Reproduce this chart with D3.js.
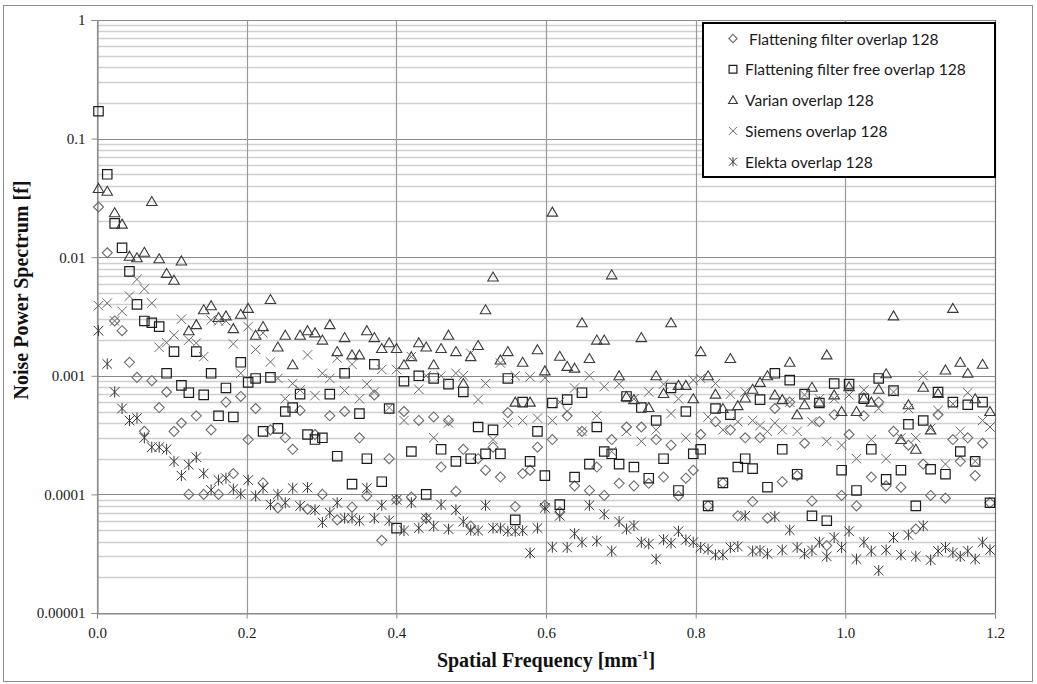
<!DOCTYPE html>
<html>
<head>
<meta charset="utf-8">
<script src="https://cdn.jsdelivr.net/npm/d3@7"></script>
<style>
  body { margin: 0; background: #fff; }
</style>
</head>
<body>
<svg id="chart" width="1037" height="684"></svg>
<script>
// spatial frequency bins (mm^-1)
const freq = [0.002,
  0.0137, 0.0236, 0.0335, 0.0434, 0.0534, 0.0633, 0.0732, 0.0831, 0.0930, 0.1029,
  0.1128, 0.1227, 0.1327, 0.1426, 0.1525, 0.1624, 0.1723, 0.1822, 0.1921, 0.2020,
  0.2120, 0.2219, 0.2318, 0.2417, 0.2516, 0.2615, 0.2714, 0.2813, 0.2913, 0.3012,
  0.3111, 0.3210, 0.3309, 0.3408, 0.3507, 0.3606, 0.3706, 0.3805, 0.3904, 0.4003,
  0.4102, 0.4201, 0.4300, 0.4399, 0.4499, 0.4598, 0.4697, 0.4796, 0.4895, 0.4994,
  0.5093, 0.5192, 0.5292, 0.5391, 0.5490, 0.5589, 0.5688, 0.5787, 0.5886, 0.5985,
  0.6085, 0.6184, 0.6283, 0.6382, 0.6481, 0.6580, 0.6679, 0.6778, 0.6878, 0.6977,
  0.7076, 0.7175, 0.7274, 0.7373, 0.7472, 0.7571, 0.7671, 0.7770, 0.7869, 0.7968,
  0.8067, 0.8166, 0.8265, 0.8364, 0.8464, 0.8563, 0.8662, 0.8761, 0.8860, 0.8959,
  0.9058, 0.9157, 0.9257, 0.9356, 0.9455, 0.9554, 0.9653, 0.9752, 0.9851, 0.9950,
  1.0050, 1.0149, 1.0248, 1.0347, 1.0446, 1.0545, 1.0644, 1.0743, 1.0843, 1.0942,
  1.1041, 1.1140, 1.1239, 1.1338, 1.1437, 1.1536, 1.1636, 1.1735, 1.1834, 1.1933];

const flatteningFilter = [0.0265,
  0.0109, 0.0029, 0.0024, 0.0013, 0.00097, 0.00034, 0.00091, 0.00054, 0.00073, 0.00034,
  0.0004, 0.0001, 0.00046, 0.0001, 0.00035, 0.0001, 0.0006, 0.00015, 0.00067, 0.00029,
  0.00053, 0.000125, 0.00035, 0.000077, 0.0003, 0.00024, 0.00051, 0.000075, 0.00032, 0.0001,
  0.00046, 0.000061, 0.0005, 0.000078, 0.0003, 0.000097, 0.00069, 0.000041, 0.0002, 0.00009,
  0.0005, 0.000095, 0.00042, 0.000063, 0.00045, 0.00017, 0.00042, 0.000106, 0.00024, 0.000054,
  0.0002, 0.00016, 0.00025, 0.00014, 0.00049, 0.000079, 0.00015, 0.00016, 0.00025, 0.000081,
  0.00029, 0.000071, 0.00046, 0.000118, 0.00034, 0.000108, 0.00017, 0.000098, 0.00029, 0.000124,
  0.00037, 0.000118, 0.00037, 0.000124, 0.00029, 0.00014, 0.00026, 0.000097, 0.000137, 0.00016,
  0.00032, 0.00008, 0.00041, 0.000125, 0.00035, 0.000066, 0.0003, 0.000087, 0.0003, 0.000063,
  0.00053, 0.000128, 0.0006, 0.000144, 0.00027, 0.000088, 0.00041, 0.000037, 0.00047, 0.000098,
  0.00032, 0.00008, 0.00046, 0.00014, 0.0006, 0.000118, 0.00034, 0.000115, 0.00026, 0.000051,
  0.00018, 0.000098, 0.00047, 0.000093, 0.00029, 0.00019, 0.0003, 0.000144, 0.00027, 0.000085];

const flatteningFilterFree = [0.17,
  0.05, 0.0193, 0.012, 0.0076, 0.004, 0.0029, 0.0028, 0.0026, 0.00105, 0.0016,
  0.00083, 0.00072, 0.0016, 0.00069, 0.00105, 0.00046, 0.00079, 0.00045, 0.0013, 0.00088,
  0.00095, 0.00034, 0.00097, 0.00036, 0.0005, 0.00054, 0.0007, 0.00032, 0.00029, 0.0003,
  0.0007, 0.00021, 0.00105, 0.000122, 0.00048, 0.0002, 0.00125, 0.000128, 0.00053, 0.000052,
  0.0009, 0.00023, 0.001, 0.0001, 0.00095, 0.00024, 0.00085, 0.00019, 0.00073, 0.0002,
  0.00037, 0.00022, 0.00035, 0.00022, 0.00095, 0.000061, 0.0006, 0.00019, 0.00034, 0.000144,
  0.00059, 0.000082, 0.00063, 0.00014, 0.00072, 0.00018, 0.00037, 0.00023, 0.00022, 0.00018,
  0.00067, 0.00017, 0.00054, 0.000137, 0.00042, 0.0002, 0.00079, 0.000108, 0.0005, 0.00022,
  0.00024, 0.00008, 0.00053, 0.000125, 0.00047, 0.00017, 0.0002, 0.000165, 0.00063, 0.000115,
  0.00105, 0.00024, 0.00092, 0.000148, 0.0007, 0.000066, 0.00059, 0.00006, 0.00086, 0.00016,
  0.00085, 0.000108, 0.00064, 0.00024, 0.00095, 0.000134, 0.00075, 0.00016, 0.00039, 0.00008,
  0.00042, 0.000163, 0.00073, 0.000148, 0.0006, 0.00023, 0.00057, 0.00019, 0.0006, 0.000085];

const varian = [0.038,
  0.036, 0.0237, 0.019, 0.0102, 0.0099, 0.011, 0.0295, 0.0097, 0.0073, 0.0064,
  0.0093, 0.0024, 0.0027, 0.0036, 0.0039, 0.0031, 0.0032, 0.0025, 0.0033, 0.0037,
  0.0022, 0.0026, 0.0044, 0.00175, 0.0022, 0.00124, 0.0022, 0.0024, 0.0023, 0.002,
  0.0027, 0.0016, 0.0021, 0.0015, 0.0015, 0.0024, 0.0021, 0.0017, 0.0019, 0.0017,
  0.00124, 0.00145, 0.0019, 0.00175, 0.00124, 0.0017, 0.0022, 0.0016, 0.00086, 0.00145,
  0.0018, 0.0036, 0.0068, 0.00136, 0.0016, 0.0006, 0.0013, 0.0006, 0.00166, 0.0011,
  0.024, 0.00146, 0.0012, 0.00116, 0.0028, 0.0014, 0.002, 0.002, 0.0071, 0.001,
  0.00067, 0.00063, 0.0021, 0.00054, 0.001, 0.00071, 0.0028, 0.00083, 0.00083, 0.00064,
  0.0016, 0.001, 0.0007, 0.00053, 0.0014, 0.00056, 0.00065, 0.00077, 0.00088, 0.001,
  0.00069, 0.00063, 0.0013, 0.00047, 0.00057, 0.0008, 0.0006, 0.0015, 0.00069, 0.0005,
  0.00081, 0.0005, 0.00065, 0.0006, 0.00077, 0.00104, 0.0032, 0.00029, 0.00057, 0.00024,
  0.0008, 0.00035, 0.00071, 0.00112, 0.0037, 0.0013, 0.00105, 0.00064, 0.00125, 0.0005];

const siemens = [0.0039,
  0.0041, 0.0029, 0.0035, 0.0047, 0.0065, 0.0054, 0.0041, 0.00174, 0.0019, 0.0022,
  0.003, 0.002, 0.00189, 0.00145, 0.00295, 0.0029, 0.0029, 0.00186, 0.00105, 0.0026,
  0.00167, 0.0023, 0.00131, 0.00095, 0.00064, 0.00086, 0.00076, 0.0015, 0.00068, 0.00105,
  0.00095, 0.00141, 0.00075, 0.00125, 0.00064, 0.00085, 0.00073, 0.00113, 0.00054, 0.00113,
  0.00042, 0.00145, 0.00077, 0.001, 0.0003, 0.001, 0.0004, 0.00105, 0.001, 0.00155,
  0.00063, 0.00086, 0.00029, 0.00128, 0.0004, 0.001, 0.00042, 0.00098, 0.00044, 0.00096,
  0.00042, 0.0006, 0.0005, 0.00079, 0.00034, 0.001, 0.00046, 0.00081, 0.00023, 0.00085,
  0.00034, 0.00064, 0.00028, 0.00073, 0.00035, 0.00085, 0.00048, 0.00064, 0.0003, 0.00092,
  0.00095, 0.00045, 0.00086, 0.00035, 0.0007, 0.00041, 0.00073, 0.00042, 0.00038, 0.00034,
  0.0004, 0.00035, 0.0006, 0.00034, 0.00069, 0.00041, 0.00064, 0.00028, 0.00064, 0.00026,
  0.00069, 0.0002, 0.00076, 0.00029, 0.00053, 0.0002, 0.00073, 0.0003, 0.00053, 0.0003,
  0.001, 0.00036, 0.00051, 0.00018, 0.00058, 0.00034, 0.00072, 0.00019, 0.00042, 0.00037];

const elekta = [0.0024,
  0.00126, 0.00073, 0.00053, 0.00042, 0.00044, 0.0003, 0.00025, 0.00025, 0.00024, 0.00019,
  0.000144, 0.000178, 0.000206, 0.00015, 0.000109, 0.000132, 0.000137, 0.000111, 0.000101, 0.000132,
  0.000097, 0.000113, 0.000082, 0.0001, 0.000085, 0.000113, 0.00008, 0.000114, 0.000074, 0.000058,
  0.00007, 0.000085, 0.000063, 0.000063, 0.00006, 0.000113, 0.000063, 0.000081, 0.00006, 0.00009,
  0.0000495, 0.000085, 0.000052, 0.000063, 0.000054, 0.000082, 0.000051, 0.000074, 0.000059, 0.00005,
  0.0000495, 0.000081, 0.000052, 0.000052, 0.000049, 0.000049, 0.0000495, 0.000032, 0.000052, 0.000077,
  0.0000359, 0.000066, 0.0000357, 0.0000466, 0.0000395, 0.000081, 0.0000404, 0.000068, 0.0000333, 0.000059,
  0.000051, 0.0000546, 0.0000395, 0.0000383, 0.0000284, 0.0000415, 0.0000388, 0.0000489, 0.0000413, 0.0000395,
  0.0000357, 0.0000345, 0.0000309, 0.0000309, 0.0000357, 0.0000364, 0.000066, 0.0000333, 0.0000337, 0.0000316,
  0.000065, 0.000034, 0.00005, 0.0000357, 0.0000316, 0.0000337, 0.0000395, 0.00003, 0.0000433, 0.0000357,
  0.0000489, 0.0000285, 0.0000395, 0.0000333, 0.0000228, 0.000034, 0.0000433, 0.0000309, 0.0000455, 0.00003,
  0.0000543, 0.000028, 0.0000333, 0.0000357, 0.0000323, 0.00003, 0.0000333, 0.0000285, 0.0000395, 0.000034];

const seriesNames = [' Flattening filter overlap 128', 'Flattening filter free overlap 128',
  'Varian overlap 128', 'Siemens overlap 128', 'Elekta overlap 128'];
const seriesValues = [flatteningFilter, flatteningFilterFree, varian, siemens, elekta];

const xTickValues = [0, 0.2, 0.4, 0.6, 0.8, 1.0, 1.2];
const xTickLabels = ['0.0', '0.2', '0.4', '0.6', '0.8', '1.0', '1.2'];
const yTickValues = [1e-5, 1e-4, 1e-3, 1e-2, 1e-1, 1];
const yTickLabels = ['0.00001', '0.0001', '0.001', '0.01', '0.1', '1'];

// marker shapes, one per series
const shapes = [
  { path: s => `M0,${-s}L${s},0L0,${s}L${-s},0Z`, color: '#6c6c6c', width: 1.1 },
  { path: s => `M${-s},${-s}H${s}V${s}H${-s}Z`, color: '#1c1c1c', width: 1.2 },
  { path: s => `M0,${-s}L${s * 1.05},${s * 0.8}L${-s * 1.05},${s * 0.8}Z`, color: '#3a3a3a', width: 1.1 },
  { path: s => `M${-s},${-s}L${s},${s}M${s},${-s}L${-s},${s}`, color: '#6a6a6a', width: 1 },
  { path: s => `M${-s},${-s}L${s},${s}M${s},${-s}L${-s},${s}M0,${-s * 1.15}V${s * 1.15}`, color: '#3a3a3a', width: 1 }
];
const markerSize = [5, 4.7, 5, 4.7, 4.8];

const svg = d3.select('#chart');

// outer frame
svg.append('rect')
  .attr('x', 3.5).attr('y', 5.5).attr('width', 1029).attr('height', 676)
  .attr('fill', '#fff').attr('stroke', '#8c8c8c').attr('stroke-width', 1);

const x = d3.scaleLinear().domain([0, 1.2]).range([97, 995]);
const y = d3.scaleLog().domain([1e-5, 1]).range([613, 20]);

// minor horizontal grid
const minorVals = [];
yTickValues.slice(0, -1).forEach(d => {
  for (let m = 2; m <= 9; m++) minorVals.push(d * m);
});
svg.append('g').selectAll('line')
  .data(minorVals)
  .join('line')
  .attr('x1', x(0)).attr('x2', x(1.2))
  .attr('y1', d => Math.round(y(d)) + 0.5).attr('y2', d => Math.round(y(d)) + 0.5)
  .attr('stroke', '#cfcfcf').attr('stroke-width', 1.5);

// major horizontal grid
svg.append('g').selectAll('line')
  .data(yTickValues)
  .join('line')
  .attr('x1', x(0)).attr('x2', x(1.2))
  .attr('y1', d => Math.round(y(d)) + 0.5).attr('y2', d => Math.round(y(d)) + 0.5)
  .attr('stroke', '#8a8a8a').attr('stroke-width', 1.2);

// vertical grid
svg.append('g').selectAll('line')
  .data(xTickValues)
  .join('line')
  .attr('x1', d => Math.round(x(d)) + 0.5).attr('x2', d => Math.round(x(d)) + 0.5)
  .attr('y1', y(1)).attr('y2', y(1e-5))
  .attr('stroke', (d, i) => i === xTickValues.length - 1 ? '#6e6e6e' : '#999').attr('stroke-width', 1.2);

// axes
const yAxis = d3.axisLeft(y).tickValues(yTickValues)
  .tickFormat((d, i) => yTickLabels[i]).tickSize(6).tickPadding(6);
const gy = svg.append('g').attr('transform', `translate(${x(0) + 0.5},0)`).call(yAxis);
const xAxis = d3.axisBottom(x).tickValues(xTickValues)
  .tickFormat((d, i) => xTickLabels[i]).tickSize(5).tickPadding(9);
const gx = svg.append('g').attr('transform', `translate(0,${y(1e-5) + 0.5})`).call(xAxis);

[gx, gy].forEach(g => {
  g.select('.domain').attr('stroke', '#8a8a8a').attr('stroke-width', 1.2);
  g.selectAll('.tick line').attr('stroke', '#8a8a8a');
  g.selectAll('.tick text')
    .attr('font-family', '"Liberation Serif", "Times New Roman", serif')
    .attr('font-size', 15).attr('fill', '#1a1a1a');
});

// data markers
seriesValues.forEach((vals, si) => {
  const sh = shapes[si];
  svg.append('g').selectAll('path')
    .data(vals.map((v, i) => [freq[i], v]))
    .join('path')
    .attr('transform', d => `translate(${x(d[0])},${y(d[1])})`)
    .attr('d', sh.path(markerSize[si]))
    .attr('fill', 'none')
    .attr('stroke', sh.color)
    .attr('stroke-width', sh.width);
});

// legend
const legend = svg.append('g');
legend.append('rect')
  .attr('x', 703).attr('y', 23).attr('width', 292).attr('height', 154)
  .attr('fill', '#fff').attr('stroke', '#000').attr('stroke-width', 2);
seriesNames.forEach((name, i) => {
  const cy = 38.5 + i * 30.8;
  legend.append('path')
    .attr('transform', `translate(733,${cy})`)
    .attr('d', shapes[i].path(markerSize[i] - 0.8))
    .attr('fill', 'none').attr('stroke', shapes[i].color).attr('stroke-width', shapes[i].width);
  legend.append('text')
    .attr('x', 745).attr('y', cy)
    .attr('dominant-baseline', 'central')
    .attr('font-family', 'Lato, "Open Sans", sans-serif')
    .attr('font-size', 15.6).attr('fill', '#1a1a1a')
    .attr('xml:space', 'preserve')
    .text(name);
});

// axis titles
svg.append('text')
  .attr('transform', 'translate(21,290) rotate(-90)')
  .attr('text-anchor', 'middle').attr('dominant-baseline', 'central')
  .attr('font-family', '"Liberation Serif", "Times New Roman", serif')
  .attr('font-weight', 'bold').attr('font-size', 20).attr('fill', '#111')
  .text('Noise Power Spectrum [f]');

const xt = svg.append('text')
  .attr('x', 546).attr('y', 667)
  .attr('text-anchor', 'middle')
  .attr('font-family', '"Liberation Serif", "Times New Roman", serif')
  .attr('font-weight', 'bold').attr('font-size', 20).attr('fill', '#111');
xt.append('tspan').text('Spatial Frequency [mm');
xt.append('tspan').attr('font-size', 13).attr('dy', -8).text('-1');
xt.append('tspan').attr('dy', 8).text(']');
</script>
</body>
</html>
